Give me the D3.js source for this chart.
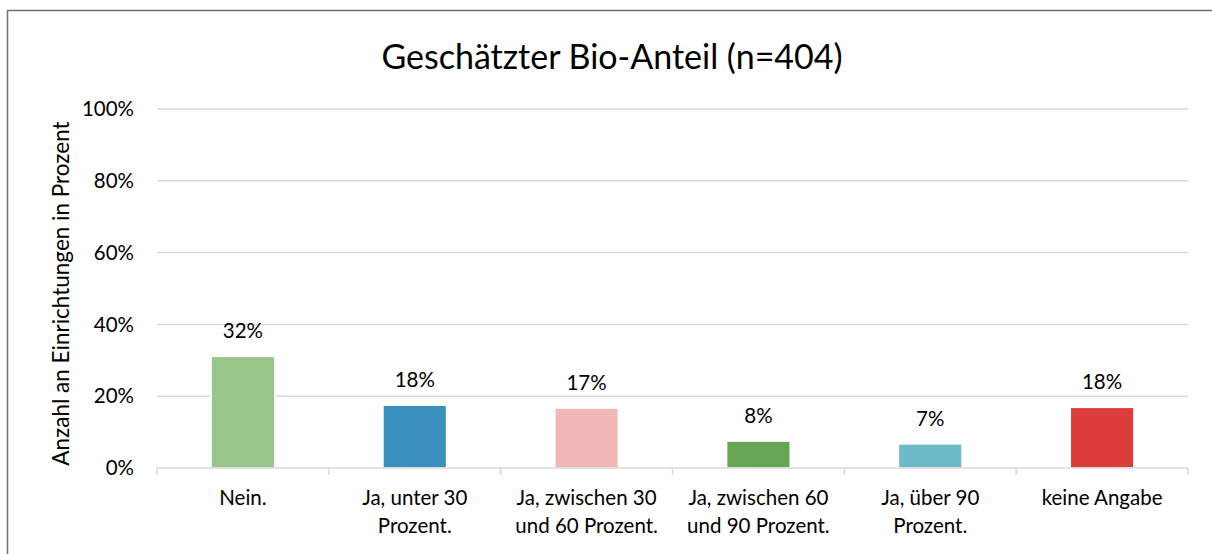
<!DOCTYPE html>
<html>
<head>
<meta charset="utf-8">
<script src="https://cdn.jsdelivr.net/npm/d3@7"></script>
<style>
  body { margin: 0; background: #fff; }
  text { font-family: Lato, "Open Sans", sans-serif; fill: #000; }
</style>
</head>
<body>
<div id="container"></div>
<script>
// data
var categories = ['Nein.', 'Ja, unter 30 Prozent.', 'Ja, zwischen 30 und 60 Prozent.', 'Ja, zwischen 60 und 90 Prozent.', 'Ja, über 90 Prozent.', 'keine Angabe']
var categoryLines = [['Nein.'], ['Ja, unter 30', 'Prozent.'], ['Ja, zwischen 30', 'und 60 Prozent.'], ['Ja, zwischen 60', 'und 90 Prozent.'], ['Ja, über 90', 'Prozent.'], ['keine Angabe']]
var values = [0.311, 0.175, 0.167, 0.075, 0.067, 0.169]
var valueLabels = ['32%', '18%', '17%', '8%', '7%', '18%']
var barColors = ['#98c58a', '#3a90bd', '#f2b8b7', '#66a553', '#6cb9c9', '#db3e3a']
var yTicks = [0, 0.2, 0.4, 0.6, 0.8, 1]

var W = 1212, H = 554
var margin = { top: 109, right: 24, bottom: 86, left: 157 },
    width = W - margin.left - margin.right,
    height = H - margin.top - margin.bottom

var root = d3.select('#container')
    .append('svg')
    .attr('width', W)
    .attr('height', H)

// chart frame
root.append('rect')
    .attr('x', 7.5)
    .attr('y', 10.5)
    .attr('width', W + 10)
    .attr('height', H + 10)
    .style('fill', 'none')
    .style('stroke', '#707070')
    .style('stroke-width', 1.5)

var svg = root.append('g')
    .attr('transform', 'translate(' + margin.left + ',' + margin.top + ')')

var x = d3.scaleBand().domain(categories).range([0, width]).paddingInner(0.63).paddingOuter(0.315)
var xOuter = d3.scaleBand().domain(categories).range([0, width])
var y = d3.scaleLinear().domain([0, 1]).range([height, 0])

// gridlines
svg.append('g')
    .selectAll('line')
    .data(yTicks.slice(1))
    .enter()
    .append('line')
    .attr('x1', 0)
    .attr('x2', width)
    .attr('y1', function(d) { return y(d) })
    .attr('y2', function(d) { return y(d) })
    .style('stroke', '#d9d9d9')
    .style('stroke-width', 1.5)

// y tick labels
svg.append('g')
    .selectAll('text')
    .data(yTicks)
    .enter()
    .append('text')
    .attr('x', -23)
    .attr('y', function(d) { return y(d) })
    .attr('dy', '.35em')
    .attr('text-anchor', 'end')
    .style('font-size', '20.5px')
    .text(d3.format('.0%'))

// bars
svg.append('g')
    .selectAll('rect')
    .data(values)
    .enter()
    .append('rect')
    .attr('x', function(d, i) { return x(categories[i]) })
    .attr('y', function(d) { return y(d) })
    .attr('width', x.bandwidth())
    .attr('height', function(d) { return height - y(d) })
    .style('fill', function(d, i) { return barColors[i] })
    .style('stroke', '#fff')
    .style('stroke-width', 1.5)

// x axis line with ticks
var xAxis = svg.append('g').attr('transform', 'translate(0,' + height + ')')
xAxis.append('line')
    .attr('x1', 0)
    .attr('x2', width)
    .style('stroke', '#d9d9d9')
    .style('stroke-width', 1.5)
xAxis.selectAll('.tick')
    .data(categories.concat(['end']))
    .enter()
    .append('line')
    .attr('x1', function(d, i) { return i < categories.length ? xOuter(d) : width })
    .attr('x2', function(d, i) { return i < categories.length ? xOuter(d) : width })
    .attr('y1', 0)
    .attr('y2', 7)
    .style('stroke', '#d9d9d9')
    .style('stroke-width', 1.5)

// category labels
var catLabel = xAxis.selectAll('.cat')
    .data(categoryLines)
    .enter()
    .append('text')
    .attr('class', 'cat')
    .attr('text-anchor', 'middle')
    .attr('transform', function(d, i) {
        return 'translate(' + (xOuter(categories[i]) + xOuter.bandwidth() / 2) + ',37)'
    })
    .style('font-size', '20.5px')
catLabel.selectAll('tspan')
    .data(function(d) { return d })
    .enter()
    .append('tspan')
    .attr('x', 0)
    .attr('dy', function(d, i) { return i === 0 ? 0 : 28 })
    .text(function(d) { return d })

// value labels
svg.append('g')
    .selectAll('text')
    .data(values)
    .enter()
    .append('text')
    .attr('x', function(d, i) { return x(categories[i]) + x.bandwidth() / 2 })
    .attr('y', function(d) { return y(d) - 18 })
    .attr('text-anchor', 'middle')
    .style('font-size', '20.5px')
    .text(function(d, i) { return valueLabels[i] })

// title
root.append('text')
    .attr('x', 612)
    .attr('y', 69)
    .attr('text-anchor', 'middle')
    .style('font-size', '34px')
    .text('Geschätzter Bio-Anteil (n=404)')

// y axis title
root.append('text')
    .attr('transform', 'translate(69,' + (margin.top + height / 2 + 5) + ') rotate(-90)')
    .attr('text-anchor', 'middle')
    .style('font-size', '22.5px')
    .text('Anzahl an Einrichtungen in Prozent')
</script>
</body>
</html>
